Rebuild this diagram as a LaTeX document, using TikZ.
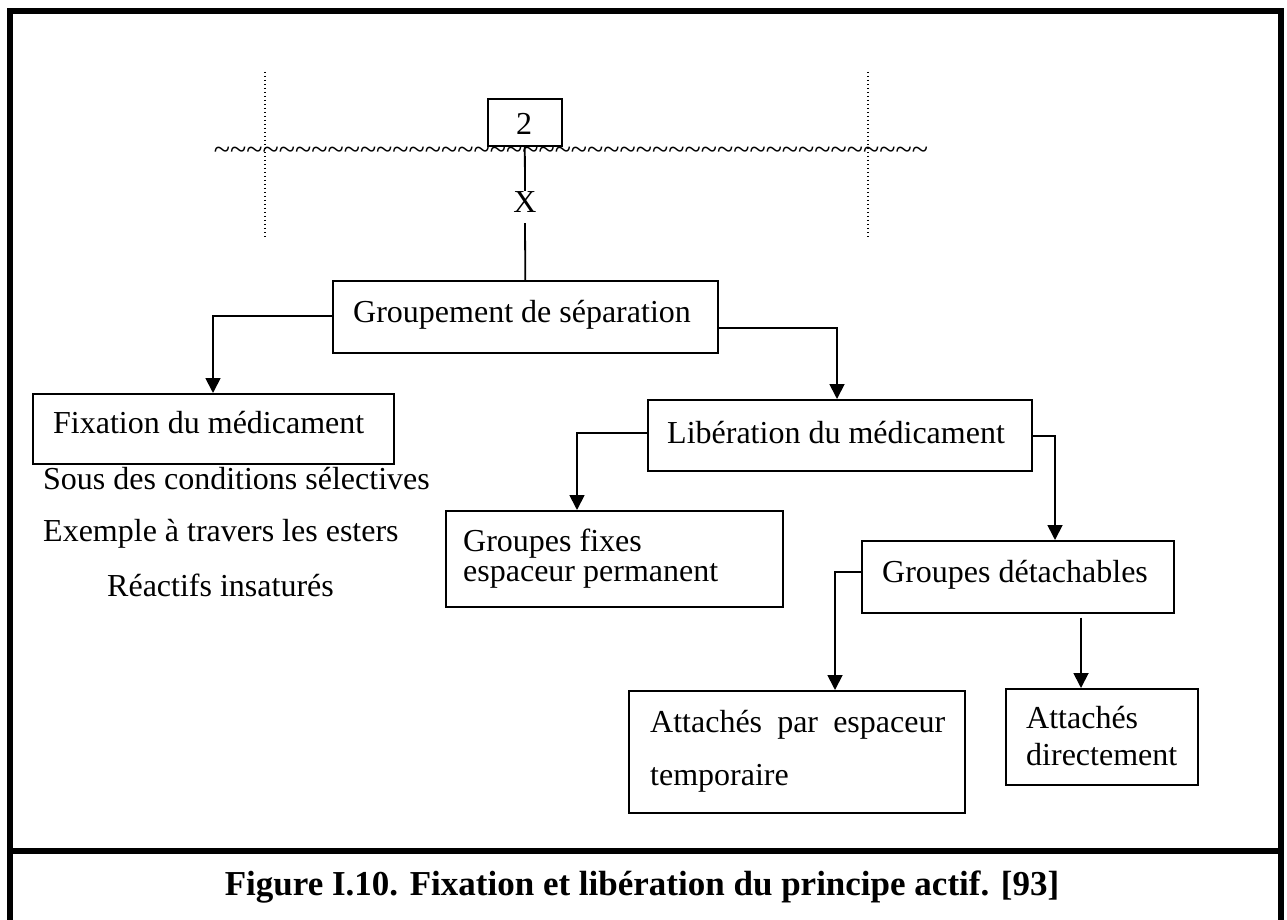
\documentclass[tikz,border=0pt]{standalone}
\usepackage{fontspec}
\setmainfont{Liberation Serif}
\usetikzlibrary{arrows.meta}
% a run of four tildes, repeated to draw the wavy surface line
\newcommand\tildefour{\textasciitilde\textasciitilde\textasciitilde\textasciitilde}
\begin{document}
\begin{tikzpicture}[x=1pt,y=-1pt,
  box/.style={draw, line width=1.6pt, inner sep=0pt, anchor=north west},
  txt/.style={inner sep=0pt, anchor=base west, font=\fontsize{32pt}{37pt}\selectfont},
  link/.style={line width=1.8pt},
  arr/.style={line width=1.8pt, -{Triangle[width=15pt,length=15pt]}},
  guide/.style={line width=1.4pt, dash pattern=on 1.4pt off 2.6pt}]
\useasboundingbox (0,0) rectangle (1287,920);

% outer frame and caption band
\draw[line width=6pt] (10,11) rectangle (1281,851);
\draw[line width=6pt] (10,851) -- (10,925) (1281,851) -- (1281,925);

% surface and dotted guides
\draw[guide] (265,72) -- (265,237);
\draw[guide] (868,72) -- (868,237);
\node[inner sep=0pt, anchor=base, font=\fontsize{30pt}{30pt}\selectfont] (surf) at (571,160)
  {\tildefour\tildefour\tildefour\tildefour\tildefour\tildefour\tildefour\tildefour\tildefour\tildefour\tildefour};

% boxes
\node[box, minimum width=74pt, minimum height=47pt] (two) at (487,98) {};
\node[box, minimum width=385pt, minimum height=72pt] (grp) at (332,280) {};
\node[box, minimum width=361pt, minimum height=70pt] (fix) at (32,393) {};
\node[box, minimum width=384pt, minimum height=71pt] (lib) at (647,399) {};
\node[box, minimum width=337pt, minimum height=96pt] (gfix) at (445,510) {};
\node[box, minimum width=312pt, minimum height=72pt] (gdet) at (861,540) {};
\node[box, minimum width=336pt, minimum height=122pt] (apar) at (628,690) {};
\node[box, minimum width=192pt, minimum height=96pt] (adir) at (1005,688) {};

% texts
\node[txt, anchor=base] (t2) at (524,135) {2};
\node[txt, anchor=base] (xlab) at (525,212) {X};
\node[txt] (tgrp) at (353,322) {Groupement de séparation};
\node[txt] (tfix) at (53,433) {Fixation du médicament};
\node[txt] (tsous) at (43,489) {Sous des conditions sélectives};
\node[txt] (tex) at (43,541) {Exemple à travers les esters};
\node[txt] (trea) at (107,596) {Réactifs insaturés};
\node[txt] (tlib) at (667,443) {Libération du médicament};
\node[txt] (tgf1) at (463,551) {Groupes fixes};
\node[txt] (tgf2) at (463,581) {espaceur permanent};
\node[txt] (tgd) at (882,582) {Groupes détachables};
\node[txt] (tap1) at (650,732) {\hbox to 295pt{Attachés\hfill par\hfill espaceur}};
\node[txt] (tap2) at (650,785) {temporaire};
\node[txt] (tad1) at (1026,728) {Attachés};
\node[txt] (tad2) at (1026,765) {directement};

\node[inner sep=0pt, anchor=base, font=\fontsize{35pt}{40pt}\selectfont\bfseries] (cap) at (642,895)
  {Figure I.10. Fixation et libération du principe actif. [93]};

% connectors
\draw[link] (two.south) -- (xlab.north);
\draw[link] ([yshift=-11pt]xlab.south) -- (grp.north);
\draw[arr] ([yshift=-36pt]grp.north west) -| ([xshift=181pt]fix.north west);
\draw[arr] ([yshift=-48pt]grp.north east) -| ([xshift=190pt]lib.north west);
\draw[arr] ([yshift=-34pt]lib.north west) -| ([xshift=132pt]gfix.north west);
\draw[arr] ([yshift=-37pt]lib.north east) -| ([xshift=194pt]gdet.north west);
\draw[arr] ([yshift=-32pt]gdet.north west) -| ([xshift=207pt]apar.north west);
\draw[arr] ([xshift=220pt,yshift=-4pt]gdet.south west) -- ([xshift=76pt]adir.north west);
\end{tikzpicture}
\end{document}
